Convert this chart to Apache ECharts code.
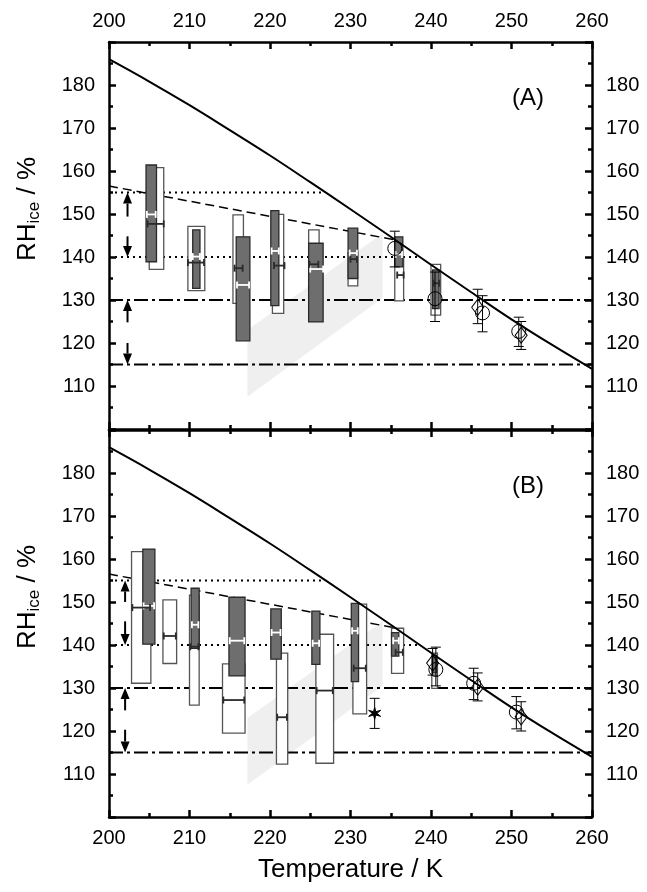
<!DOCTYPE html>
<html>
<head>
<meta charset="utf-8">
<script src="https://cdn.jsdelivr.net/npm/echarts@6/dist/echarts.min.js"></script>
<style>
  html, body { margin: 0; padding: 0; background: #fff; }
  #chart { width: 647px; height: 892px; }
</style>
</head>
<body>
<div id="chart"></div>
<script>
// homogeneous freezing line (RH_ice vs temperature)
const curveT = [200, 205, 210, 215, 220, 225, 230, 235, 240, 245, 250, 255, 260];
const curveRH = [186.0, 180.8, 175.3, 169.5, 163.6, 157.4, 151.1, 144.7, 138.2, 131.8, 125.5, 119.6, 114.0];

// reference lines
const dashedLine = [[200, 156.5], [235.5, 144.0]];
const dottedUpper = [[200, 155], [226.8, 155]];
const dottedLower = [[200, 140], [238.6, 140]];
const dashDotLevels = [130, 115];
const shadeCorners = [[217.2, 107.5], [217.2, 123.0], [234.0, 145.5], [234.0, 130.5]];

// boxes: [T min, T max, RH low, RH high]
const whiteBoxesA = [
  [205.0, 206.8, 137.1, 160.8], [209.8, 211.9, 132.2, 147.1], [215.4, 216.7, 129.2, 149.8],
  [220.3, 221.7, 126.9, 149.9], [224.8, 226.1, 130.0, 146.3], [229.7, 230.9, 133.3, 141.0],
  [235.5, 236.6, 129.8, 140.0], [240.0, 241.2, 126.5, 138.3]
];
const grayBoxesA = [
  [204.6, 205.9, 138.9, 161.4], [210.4, 211.3, 132.7, 146.3], [215.8, 217.5, 120.5, 144.7],
  [220.1, 221.1, 128.7, 150.8], [224.8, 226.6, 124.9, 143.2], [229.7, 230.9, 135.0, 146.7],
  [235.5, 236.5, 137.7, 144.7], [240.2, 241.0, 128.0, 137.0]
];
const whiteBoxesB = [
  [202.8, 205.2, 131.1, 161.7], [206.7, 208.4, 135.7, 150.5], [210.0, 211.2, 126.0, 151.6],
  [214.1, 216.9, 119.5, 135.6], [220.8, 222.2, 112.3, 138.1], [225.7, 227.9, 112.5, 142.5],
  [230.3, 232.0, 124.0, 149.5], [235.1, 236.6, 133.4, 143.9], [240.1, 240.8, 129.9, 138.1]
];
const grayBoxesB = [
  [204.2, 205.7, 140.2, 162.3], [210.2, 211.2, 139.2, 153.2], [214.9, 216.9, 132.8, 151.1],
  [220.1, 221.4, 136.7, 148.4], [225.2, 226.2, 135.5, 147.9], [230.1, 231.0, 131.5, 149.7],
  [235.1, 236.0, 137.4, 142.9], [240.2, 240.7, 133.5, 137.5]
];

// horizontal temperature-range bars: [T min, T max, RH]
const whiteBarsA = [
  [204.7, 205.8, 149.9], [210.4, 211.3, 140.1], [215.9, 217.4, 133.5], [220.2, 221.1, 141.4],
  [225.0, 226.6, 137.2], [229.9, 230.8, 140.9], [235.6, 236.4, 140.6]
];
const darkBarsA = [
  [204.8, 206.8, 147.7], [209.8, 211.8, 138.7], [215.6, 216.6, 137.4], [220.5, 221.8, 138.0],
  [224.9, 226.0, 138.3], [230.0, 230.8, 139.5], [235.8, 236.6, 135.8], [240.3, 241.0, 133.9]
];
const whiteBarsB = [
  [204.3, 205.6, 149.1], [210.3, 211.1, 144.7], [215.0, 216.8, 141.0], [220.2, 221.3, 142.9],
  [225.3, 226.1, 140.4], [230.2, 230.9, 143.3], [235.3, 236.0, 141.0]
];
const darkBarsB = [
  [202.9, 205.1, 148.7], [206.8, 208.3, 142.1], [210.1, 211.1, 139.6], [214.2, 216.8, 127.2],
  [220.9, 222.1, 123.2], [225.8, 227.8, 129.4], [230.4, 231.9, 134.6], [235.6, 236.5, 138.3]
];

// points with error bars: [T, RH, RH low, RH high]
const circlesA = [[235.5, 142.0, 137.7, 146.0], [240.5, 130.3, 125.0, 136.5], [246.4, 127.0, 122.6, 131.0], [250.9, 122.7, 119.2, 126.0]];
const diamondsA = [[245.8, 128.3, 124.5, 132.5], [251.2, 121.8, 118.5, 125.0]];
const circlesB = [[240.6, 134.3, 130.5, 139.5], [245.3, 131.1, 127.3, 134.6], [250.6, 124.4, 120.5, 128.0]];
const diamondsB = [[240.2, 135.8, 133.0, 139.2], [245.8, 130.2, 127.0, 133.5], [251.2, 123.3, 120.0, 126.8]];
const starsB = [[233.0, 124.1, 120.6, 127.6]];

// arrows: [T, RH from, RH to]
const arrowsA = [[202.3, 149.4, 155], [202.3, 144.8, 140], [202.3, 124.8, 130], [202.3, 120.0, 115]];
const arrowsB = [[202.0, 150.0, 155], [202.0, 145.5, 140], [202.0, 124.8, 130], [202.0, 120.3, 115]];

const chart = echarts.init(document.getElementById('chart'), null, { renderer: 'canvas' });
const FONT = 'Liberation Sans, Arial, sans-serif';

function xAxisCfg(grid, pos, labels) {
  return {
    type: 'value', gridIndex: grid, position: pos, min: 200, max: 260, interval: 10,
    axisLine: { onZero: false, lineStyle: { color: '#000', width: 2.5 } },
    axisTick: { inside: true, length: 7, lineStyle: { color: '#000', width: 2.5 } },
    minorTick: { show: true, splitNumber: 2, length: 4, lineStyle: { color: '#000', width: 2.5 } },
    splitLine: { show: false },
    axisLabel: { show: labels, color: '#000', fontSize: 20, fontFamily: FONT, margin: 11 }
  };
}
function yAxisCfg(grid, pos) {
  return {
    type: 'value', gridIndex: grid, position: pos, min: 100, max: 190, interval: 10,
    axisLine: { onZero: false, lineStyle: { color: '#000', width: 2.5 } },
    axisTick: { inside: true, length: 7, lineStyle: { color: '#000', width: 2.5 } },
    minorTick: { show: true, splitNumber: 2, length: 4, lineStyle: { color: '#000', width: 2.5 } },
    splitLine: { show: false },
    axisLabel: {
      color: '#000', fontSize: 20, fontFamily: FONT, margin: 14,
      formatter: v => (v === 100 || v === 190) ? '' : String(v)
    }
  };
}

function lineSeries(xi, yi, data, style, z, smooth) {
  return {
    type: 'line', xAxisIndex: xi, yAxisIndex: yi, data, showSymbol: false, symbol: 'none',
    silent: true, z, lineStyle: style, smooth: smooth || false
  };
}

function boxSeries(xi, yi, data, fill, stroke, z) {
  return {
    type: 'custom', xAxisIndex: xi, yAxisIndex: yi, data, z, silent: true,
    renderItem(params, api) {
      const a = api.coord([api.value(0), api.value(3)]);
      const b = api.coord([api.value(1), api.value(2)]);
      return {
        type: 'rect',
        shape: { x: a[0], y: a[1], width: b[0] - a[0], height: b[1] - a[1] },
        style: { fill, stroke, lineWidth: 1.3 }
      };
    }
  };
}

function barSeries(xi, yi, data, color, z) {
  return {
    type: 'custom', xAxisIndex: xi, yAxisIndex: yi, data, z, silent: true,
    renderItem(params, api) {
      const l = api.coord([api.value(0), api.value(2)]);
      const r = api.coord([api.value(1), api.value(2)]);
      const st = { stroke: color, lineWidth: 1.8 };
      return {
        type: 'group', children: [
          { type: 'line', shape: { x1: l[0], y1: l[1], x2: r[0], y2: r[1] }, style: st },
          { type: 'line', shape: { x1: l[0], y1: l[1] - 3.5, x2: l[0], y2: l[1] + 3.5 }, style: st },
          { type: 'line', shape: { x1: r[0], y1: r[1] - 3.5, x2: r[0], y2: r[1] + 3.5 }, style: st }
        ]
      };
    }
  };
}

function errSeries(xi, yi, data, z) {
  return {
    type: 'custom', xAxisIndex: xi, yAxisIndex: yi, data, z, silent: true,
    renderItem(params, api) {
      const lo = api.coord([api.value(0), api.value(2)]);
      const hi = api.coord([api.value(0), api.value(3)]);
      const st = { stroke: '#000', lineWidth: 1 };
      return {
        type: 'group', children: [
          { type: 'line', shape: { x1: lo[0], y1: lo[1], x2: hi[0], y2: hi[1] }, style: st },
          { type: 'line', shape: { x1: lo[0] - 5, y1: lo[1], x2: lo[0] + 5, y2: lo[1] }, style: st },
          { type: 'line', shape: { x1: hi[0] - 5, y1: hi[1], x2: hi[0] + 5, y2: hi[1] }, style: st }
        ]
      };
    }
  };
}

function markerSeries(xi, yi, data, symbol, size, fill, z) {
  return {
    type: 'scatter', xAxisIndex: xi, yAxisIndex: yi, data, symbol, symbolSize: size, z, silent: true,
    itemStyle: { color: fill, borderColor: '#000', borderWidth: 1, opacity: 1 }
  };
}

function arrowSeries(xi, yi, data, z) {
  return {
    type: 'custom', xAxisIndex: xi, yAxisIndex: yi, data, z, silent: true,
    renderItem(params, api) {
      const t = api.coord([api.value(0), api.value(1)]);
      const h = api.coord([api.value(0), api.value(2)]);
      const dir = h[1] > t[1] ? 1 : -1;
      const base = h[1] - dir * 11;
      return {
        type: 'group', children: [
          { type: 'line', shape: { x1: t[0], y1: t[1], x2: h[0], y2: base }, style: { stroke: '#000', lineWidth: 2 } },
          { type: 'polygon', shape: { points: [[h[0], h[1]], [h[0] - 4.5, base], [h[0] + 4.5, base]] }, style: { fill: '#000' } }
        ]
      };
    }
  };
}

function shadeSeries(xi, yi, z) {
  return {
    type: 'custom', xAxisIndex: xi, yAxisIndex: yi, data: shadeCorners, z, silent: true,
    renderItem(params, api) {
      if (params.dataIndex !== 0) return null;
      return {
        type: 'polygon',
        shape: { points: shadeCorners.map(p => api.coord(p)) },
        style: { fill: '#efefef' }
      };
    }
  };
}

const STAR = 'path://M0,-10 L1.6,-2.8 L8.7,-5 L3.2,0 L8.7,5 L1.6,2.8 L0,10 L-1.6,2.8 L-8.7,5 L-3.2,0 L-8.7,-5 L-1.6,-2.8 Z';

function panelSeries(xi, yi, d) {
  const curve = curveT.map((t, i) => [t, curveRH[i]]);
  const s = [
    shadeSeries(xi, yi, 1),
    lineSeries(xi, yi, dottedUpper, { color: '#000', width: 2, type: [2, 4] }, 2),
    lineSeries(xi, yi, dottedLower, { color: '#000', width: 2, type: [2, 4] }, 2),
    lineSeries(xi, yi, dashedLine, { color: '#000', width: 1.5, type: [9, 5] }, 2)
  ];
  dashDotLevels.forEach(lv => {
    s.push(lineSeries(xi, yi, [[200, lv], [260, lv]], { color: '#000', width: 2, type: [14, 4, 3, 4] }, 2));
  });
  s.push(
    boxSeries(xi, yi, d.white, '#fff', '#555', 3),
    boxSeries(xi, yi, d.gray, '#6e6e6e', '#2a2a2a', 4),
    barSeries(xi, yi, d.whiteBars, '#fff', 5),
    barSeries(xi, yi, d.darkBars, '#2a2a2a', 5),
    lineSeries(xi, yi, curve, { color: '#000', width: 2 }, 6, 0.4),
    errSeries(xi, yi, d.circles, 7),
    errSeries(xi, yi, d.diamonds, 7),
    markerSeries(xi, yi, d.circles, 'circle', 14, 'rgba(0,0,0,0)', 8),
    markerSeries(xi, yi, d.diamonds, 'diamond', [12, 16], 'rgba(0,0,0,0)', 8),
    arrowSeries(xi, yi, d.arrows, 8)
  );
  if (d.stars) {
    s.push(errSeries(xi, yi, d.stars, 7));
    s.push(markerSeries(xi, yi, d.stars, STAR, 12, '#000', 8));
  }
  return s;
}

function yTitle(y) {
  return {
    type: 'text', x: 28, y, rotation: Math.PI / 2,
    style: {
      text: '{m|RH}{s|ice}{m| / %}', align: 'center', verticalAlign: 'middle',
      rich: {
        m: { fontSize: 26, fontFamily: FONT, fill: '#000', lineHeight: 30 },
        s: { fontSize: 17, fontFamily: FONT, fill: '#000', lineHeight: 30, verticalAlign: 'bottom', padding: [10, 0, 0, 0] }
      }
    }
  };
}

const option = {
  animation: false,
  backgroundColor: '#fff',
  textStyle: { fontFamily: FONT },
  grid: [
    { left: 109, right: 55, top: 42, height: 387, outerBoundsMode: 'none' },
    { left: 109, right: 55, top: 430, height: 387, outerBoundsMode: 'none' }
  ],
  xAxis: [
    xAxisCfg(0, 'bottom', false),
    xAxisCfg(0, 'top', true),
    Object.assign(xAxisCfg(1, 'bottom', true), {
      name: 'Temperature / K', nameLocation: 'middle', nameGap: 40,
      nameTextStyle: { color: '#000', fontSize: 26, fontFamily: FONT }
    }),
    xAxisCfg(1, 'top', false)
  ],
  yAxis: [
    yAxisCfg(0, 'left'), yAxisCfg(0, 'right'),
    yAxisCfg(1, 'left'), yAxisCfg(1, 'right')
  ],
  graphic: [
    { type: 'text', x: 528, y: 98, style: { text: '(A)', fill: '#000', fontSize: 24, fontFamily: FONT, align: 'center', verticalAlign: 'middle' } },
    { type: 'text', x: 528, y: 486, style: { text: '(B)', fill: '#000', fontSize: 24, fontFamily: FONT, align: 'center', verticalAlign: 'middle' } },
    yTitle(209),
    yTitle(597)
  ],
  series: [].concat(
    panelSeries(0, 0, {
      white: whiteBoxesA, gray: grayBoxesA, whiteBars: whiteBarsA, darkBars: darkBarsA,
      circles: circlesA, diamonds: diamondsA, arrows: arrowsA
    }),
    panelSeries(2, 2, {
      white: whiteBoxesB, gray: grayBoxesB, whiteBars: whiteBarsB, darkBars: darkBarsB,
      circles: circlesB, diamonds: diamondsB, arrows: arrowsB, stars: starsB
    })
  )
};

chart.setOption(option);
window.addEventListener('resize', () => chart.resize());
</script>
</body>
</html>
